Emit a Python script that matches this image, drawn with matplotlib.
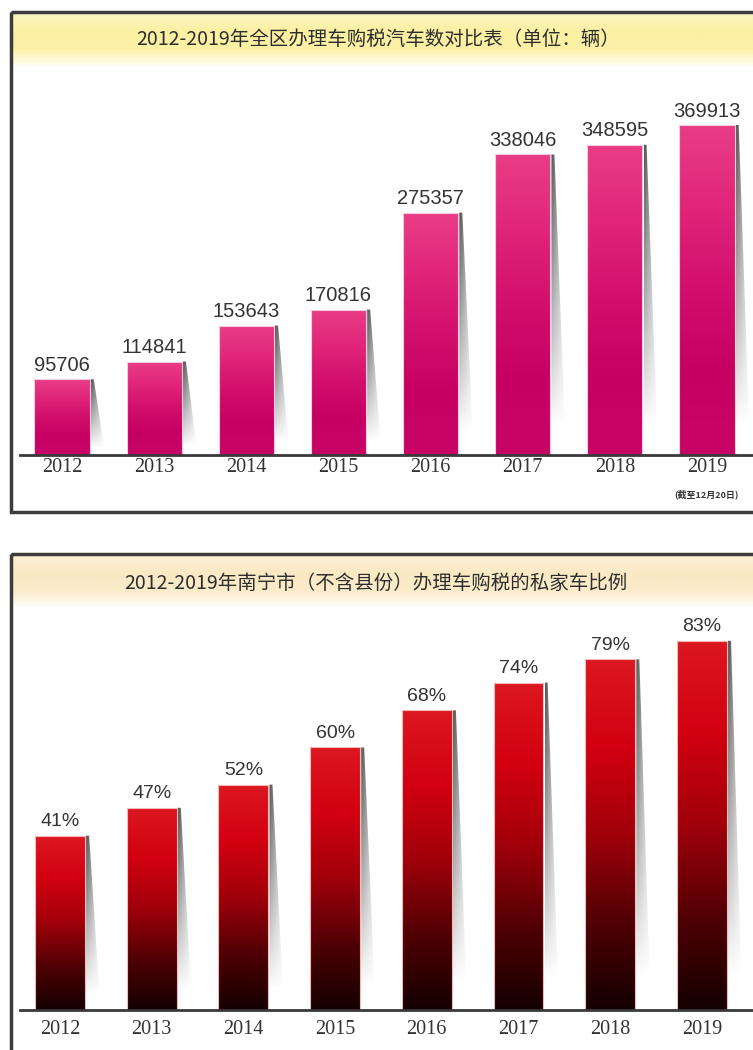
import numpy as np
import matplotlib.pyplot as plt
from matplotlib.colors import LinearSegmentedColormap
from matplotlib.patches import Rectangle, Polygon

plt.rcParams['font.family'] = ['Noto Sans CJK SC', 'DejaVu Sans']

years = ["2012", "2013", "2014", "2015", "2016", "2017", "2018", "2019"]
car_counts = [95706, 114841, 153643, 170816, 275357, 338046, 348595, 369913]
private_share = [41, 47, 52, 60, 68, 74, 79, 83]
share_labels = [f"{v}%" for v in private_share]

title_counts = "2012-2019年全区办理车购税汽车数对比表（单位：辆）"
title_share = "2012-2019年南宁市（不含县份）办理车购税的私家车比例"
note_counts = "(截至12月20日)"

W, H = 753, 1050
fig = plt.figure(figsize=(W / 100, H / 100), dpi=100)

# background layer in pixel coords: frames + title bands
bg = fig.add_axes([0, 0, 1, 1], zorder=0)
bg.axis("off")


def band(y0, y1, stops):
    cmap = LinearSegmentedColormap.from_list("band", stops)
    grad = np.linspace(0, 1, 200).reshape(-1, 1)
    bg.imshow(grad, cmap=cmap, extent=(13, W, y1, y0), aspect="auto", zorder=1)


band(14, 66, ["#fdf5c2", "#fcf0a2", "#fcf0a6", "#fffdf3"])
band(556, 607, ["#fcf0d6", "#fbe9c4", "#fbebc9", "#fffdf7"])
bg.add_patch(Rectangle((11, 12), W, 500, fill=False, lw=2.5, ec="#3c3c3c", zorder=3))
bg.add_patch(Rectangle((11, 554), W, 600, fill=False, lw=2.5, ec="#3c3c3c", zorder=3))
bg.text(378, 39, title_counts, ha="center", va="center", fontsize=14, color="#2e2e2e", zorder=4)
bg.text(376, 583, title_share, ha="center", va="center", fontsize=14, color="#2e2e2e", zorder=4)
bg.text(706, 494, note_counts, ha="center", va="center", fontsize=6.5, fontweight="bold",
        color="#333333", zorder=4)
bg.set_xlim(0, W)
bg.set_ylim(H, 0)

shade = np.zeros((80, 20, 4))
shade[..., :3] = 0.3
ty = np.linspace(0, 1, 80)[:, None]
tx = np.linspace(0, 1, 20)[None, :]
shade[..., 3] = np.clip(1 - ty * 1.1, 0, 1) ** 0.9 * (1 - 0.75 * tx) * 0.95


def gradient_bars(ax, values, width, stops, edge):
    cmap = LinearSegmentedColormap.from_list("bar", stops)
    grad = np.linspace(0, 1, 256).reshape(-1, 1)
    ybot = ax.get_ylim()[0]
    bars = ax.bar(range(len(values)), values, width=width, color="none",
                  edgecolor=edge, linewidth=0.8, zorder=3)
    for b in bars:
        x0 = b.get_x()
        x1 = x0 + b.get_width()
        top = b.get_height()
        im = ax.imshow(grad, cmap=cmap, extent=(x0, x1, ybot, top),
                       aspect="auto", origin="upper", zorder=2)
        im.set_clip_path(b)
        wedge = Polygon([(x1 + 0.012, top), (x1 + 0.045, top),
                         (x1 + 0.17, ybot), (x1 + 0.012, ybot)],
                        closed=True, fc="none", ec="none")
        ax.add_patch(wedge)
        sh = ax.imshow(shade, extent=(x1 + 0.012, x1 + 0.17, ybot, top),
                       aspect="auto", origin="upper", zorder=1)
        sh.set_clip_path(wedge)
    return bars


def style_axis(ax, pad):
    for s in ["top", "left", "right"]:
        ax.spines[s].set_visible(False)
    ax.spines["bottom"].set_color("#3a3a3a")
    ax.spines["bottom"].set_linewidth(2)
    ax.spines["bottom"].set_zorder(5)
    ax.set_yticks([])
    ax.set_xticks(range(len(years)), years)
    ax.tick_params(axis="x", length=0, pad=pad, labelsize=14.5, labelcolor="#333333")
    for t in ax.get_xticklabels():
        t.set_fontfamily(["Liberation Serif", "DejaVu Serif"])
    ax.patch.set_alpha(0)


# top chart: vehicle counts
ax1 = fig.add_axes([20 / W, 1 - 455 / H, 733 / W, 385 / H], zorder=2)
ax1.set_xlim(-0.456, 7.5)
ax1.set_ylim(14100, 14100 + 385 * 1078)
ax1.set_autoscale_on(False)
gradient_bars(ax1, car_counts, 0.6,
              ["#ea3d86", "#e0257a", "#d20f6c", "#c60063", "#c80567"], "#f7c9dc")
for i, v in enumerate(car_counts):
    ax1.annotate(str(v), (i, v), xytext=(0, 6), textcoords="offset points",
                 ha="center", va="baseline", fontsize=14.5, color="#333333",
                 family=["Liberation Sans", "DejaVu Sans"], clip_on=False)
style_axis(ax1, 2)

# bottom chart: private car share
ax2 = fig.add_axes([20 / W, 1 - 1010 / H, 733 / W, 435 / H], zorder=2)
ax2.set_xlim(-0.436, 7.557)
ax2.set_ylim(3.4, 3.4 + 435 / 4.638)
ax2.set_autoscale_on(False)
gradient_bars(ax2, private_share, 0.545,
              ["#dc1822", "#d20010", "#a0000a", "#500004", "#140000"], "#f4b8b8")
for i, v in enumerate(private_share):
    ax2.annotate(share_labels[i], (i, v), xytext=(0, 7), textcoords="offset points",
                 ha="center", va="baseline", fontsize=14, color="#333333",
                 family=["Liberation Sans", "DejaVu Sans"], clip_on=False)
style_axis(ax2, 7)

fig.savefig("out.png", dpi=100)
